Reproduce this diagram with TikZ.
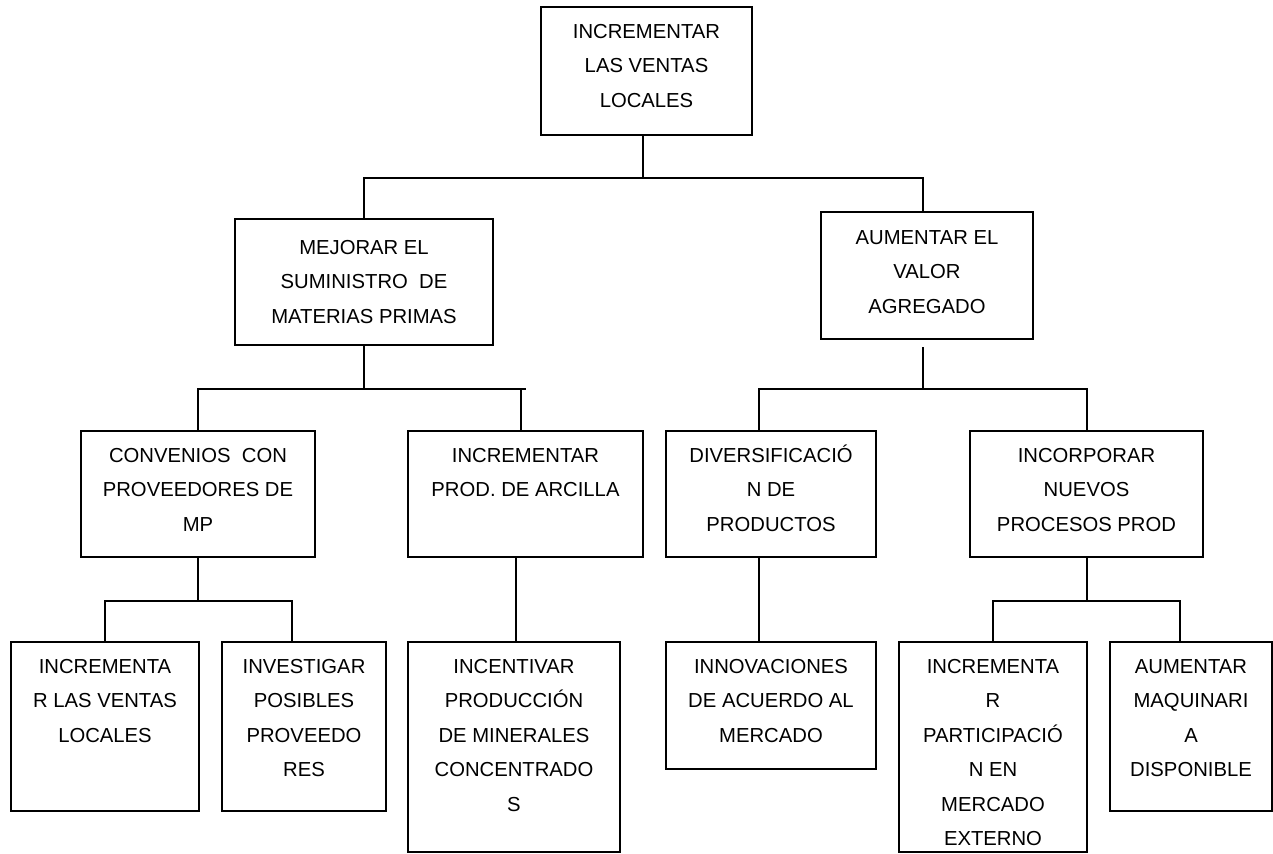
\documentclass[tikz,border=0pt]{standalone}
\usepackage{fontspec}
\setmainfont{Liberation Sans}
\usetikzlibrary{calc}

\newlength\pxu
\setlength\pxu{0.75pt}
% box content: [first baseline]{width}{height}{text}
\newcommand{\caja}[4][31]{\parbox[c][#3\pxu][t]{#2\pxu}{\centering\rule{0pt}{#1\pxu}#4}}

\tikzset{every picture/.style={line width=1.5pt},
  cajabox/.style={draw, inner sep=0pt, anchor=north west, font=\fontsize{15.2pt}{25.9pt}\selectfont}}

\begin{document}
\begin{tikzpicture}[x=0.75pt,y=0.75pt,yscale=-1,xscale=1]
	\useasboundingbox (0,0) rectangle (1273,853);
	
	% Nivel 0
	\node (raiz) at (540,6) [cajabox] {\caja{211}{128}{INCREMENTAR\\LAS VENTAS\\LOCALES}};
	% Nivel 1
	\node (mejorar) at (234,218) [cajabox] {\caja[35]{258}{126}{MEJORAR EL\\SUMINISTRO\ \ DE\\MATERIAS PRIMAS}};
	\node (aumentar) at (820,211) [cajabox] {\caja[32]{212}{127}{AUMENTAR EL\\VALOR\\AGREGADO}};
	% Nivel 2
	\node (convenios) at (80,430) [cajabox] {\caja{234}{126}{CONVENIOS\ \ CON\\PROVEEDORES DE\\MP}};
	\node (arcilla) at (407,430) [cajabox] {\caja{235}{126}{INCREMENTAR\\PROD. DE ARCILLA}};
	\node (divers) at (665,430) [cajabox] {\caja{210}{126}{DIVERSIFICACIÓ\\N DE\\PRODUCTOS}};
	\node (incorporar) at (969,430) [cajabox] {\caja{233}{126}{INCORPORAR\\NUEVOS\\PROCESOS PROD}};
	% Nivel 3
	\node (ventas) at (10,641) [cajabox] {\caja{188}{169}{INCREMENTA\\R LAS VENTAS\\LOCALES}};
	\node (investigar) at (221,641) [cajabox] {\caja{164}{169}{INVESTIGAR\\POSIBLES\\PROVEEDO\\RES}};
	\node (incentivar) at (407,641) [cajabox] {\caja{212}{210}{INCENTIVAR\\PRODUCCIÓN\\DE MINERALES\\CONCENTRADO\\S}};
	\node (innovaciones) at (665,641) [cajabox] {\caja{210}{127}{INNOVACIONES\\DE ACUERDO AL\\MERCADO}};
	\node (participacion) at (898,641) [cajabox] {\caja{188}{210}{INCREMENTA\\R\\PARTICIPACIÓ\\N EN\\MERCADO\\EXTERNO}};
	\node (maquinaria) at (1109,641) [cajabox] {\caja{162}{169}{AUMENTAR\\MAQUINARI\\A\\DISPONIBLE}};
	
	% Conectores nivel 0
	\draw ($(raiz.south)+(-4,0)$) -- ++(0,42) coordinate (b1);
	\draw (mejorar.north) |- (b1) -| ($(aumentar.north)+(-4,0)$);
	% Conectores nivel 1
	\draw (mejorar.south) -- ++(0,43) coordinate (b2);
	\draw (convenios.north) |- (arcilla.north |- b2);
	\draw ($(arcilla.north)+(-5,0)$) -- ($(arcilla.north |- b2)+(-5,0)$);
	\draw ($(aumentar.south)+(-4,7)$) -- ++(0,42) coordinate (b3);
	\draw ($(divers.north)+(-12,0)$) |- (b3) -| (incorporar.north);
	% Conectores nivel 2
	\draw (convenios.south) -- ++(0,43) coordinate (b4);
	\draw (ventas.north) |- (b4) -| ($(investigar.north)+(-12,0)$);
	\draw ($(incentivar.north |- arcilla.south)+(2,0)$) -- ($(incentivar.north)+(2,0)$);
	\draw ($(divers.south)+(-12,0)$) -- ($(innovaciones.north)+(-12,0)$);
	\draw (incorporar.south) -- ++(0,43) coordinate (b5);
	\draw (participacion.north) |- (b5) -| ($(maquinaria.north)+(-11,0)$);
\end{tikzpicture}
\end{document}
